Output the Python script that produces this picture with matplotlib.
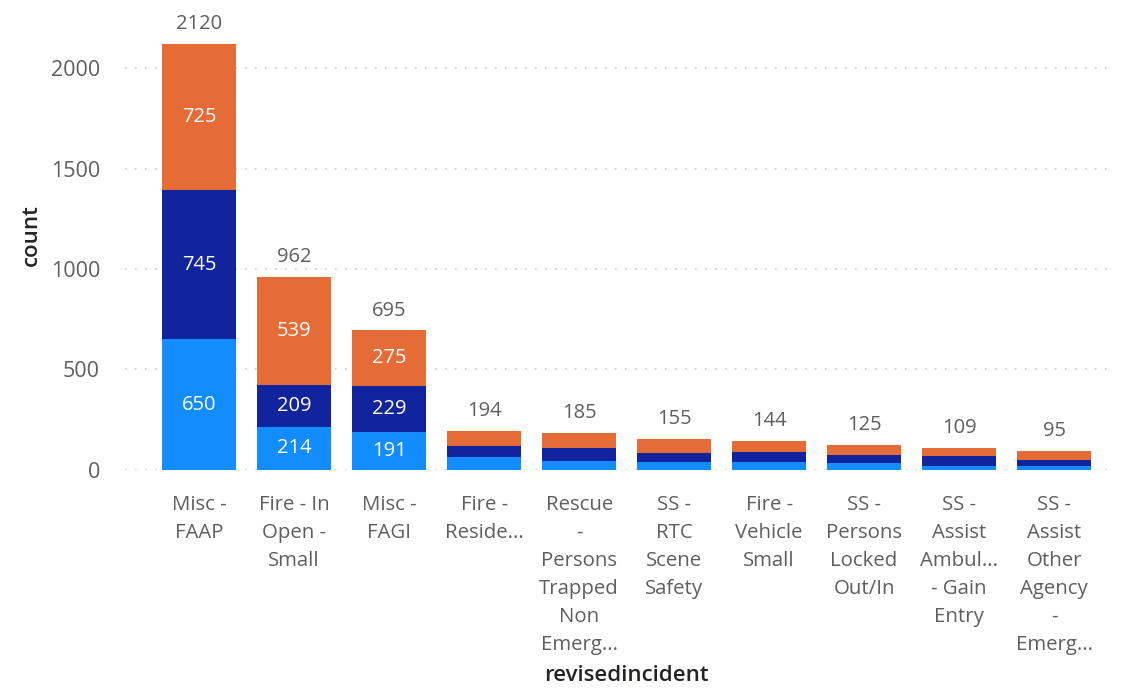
import matplotlib
matplotlib.use('Agg')
import matplotlib.pyplot as plt
import numpy as np

# incident categories (as wrapped in the chart)
categories = ["Misc -\nFAAP", "Fire - In\nOpen -\nSmall", "Misc -\nFAGI", "Fire -\nReside...",
              "Rescue\n-\nPersons\nTrapped\nNon\nEmerg...", "SS -\nRTC\nScene\nSafety",
              "Fire -\nVehicle\nSmall", "SS -\nPersons\nLocked\nOut/In",
              "SS -\nAssist\nAmbul...\n- Gain\nEntry", "SS -\nAssist\nOther\nAgency\n-\nEmerg..."]

# stacked segments, bottom to top
light_vals = [650, 214, 191, 66, 46, 38, 41, 33, 18, 20]
dark_vals = [745, 209, 229, 55, 65, 47, 47, 43, 53, 30]
orange_vals = [725, 539, 275, 73, 74, 70, 56, 49, 38, 45]
totals = [2120, 962, 695, 194, 185, 155, 144, 125, 109, 95]

c_light = '#118DFF'
c_dark = '#12239E'
c_orange = '#E66C37'
txt_gray = '#605E5C'
title_col = '#252423'

plt.rcParams['font.family'] = ['Open Sans', 'DejaVu Sans']

fig = plt.figure(figsize=(11.27, 6.88), dpi=100)
ax = fig.add_axes([0.111, 0.317, 0.874, 0.632])

x = np.arange(len(categories))
w = 0.78
light = np.array(light_vals)
dark = np.array(dark_vals)
orange = np.array(orange_vals)

segs = [(light, np.zeros(len(x)), c_light),
        (dark, light, c_dark),
        (orange, light + dark, c_orange)]
for vals, bottom, col in segs:
    ax.bar(x, vals, w, bottom=bottom, color=col, zorder=3)
    # inner labels only where the segment is tall enough
    for xi, v, b in zip(x, vals, bottom):
        if v >= 150:
            ax.text(xi, b + v / 2, str(v), ha='center', va='center',
                    color='white', fontsize=14.5, zorder=4)

for xi, t in zip(x, totals):
    ax.annotate(str(t), (xi, t), xytext=(0, 7), textcoords='offset points',
                ha='center', va='bottom', color=txt_gray, fontsize=14.5)

ax.set_xlim(-0.78, 9.59)
ax.set_ylim(0, 2165)
ax.set_yticks([0, 500, 1000, 1500, 2000])
ax.yaxis.grid(True, linestyle=(0, (1, 5)), color='#C8C6C4', linewidth=1.2, zorder=0)
ax.set_xticks(x)
ax.set_xticklabels(categories, linespacing=1.53)
ax.tick_params(axis='x', length=0, pad=18, labelsize=14.7, labelcolor=txt_gray)
ax.tick_params(axis='y', length=0, pad=18, labelsize=15.5, labelcolor=txt_gray)
for s in ax.spines.values():
    s.set_visible(False)

fig.text(31 / 1127, 1 - 235 / 688, 'count', rotation=90, ha='center', va='center',
         fontsize=16, fontweight='semibold', color=title_col)
fig.text(0.556, 0.018, 'revisedincident', ha='center', va='center',
         fontsize=16, fontweight='semibold', color=title_col)

fig.savefig('out.png', dpi=100)
